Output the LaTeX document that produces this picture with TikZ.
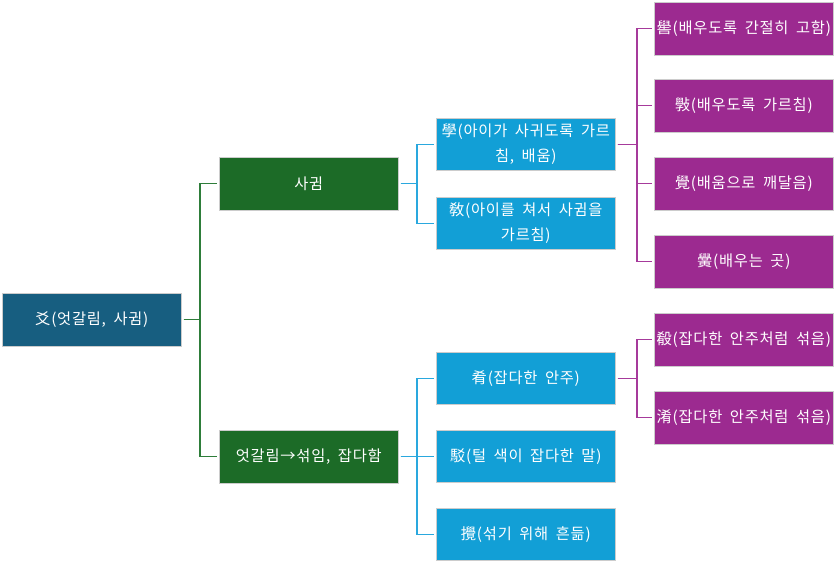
\documentclass[tikz,border=0pt]{standalone}
\usepackage{fontspec}
\setmainfont{Noto Sans CJK KR}[LetterSpace=5, WordSpace=1.8]
\definecolor{rootc}{HTML}{175E80}
\definecolor{greenc}{HTML}{1C6B27}
\definecolor{bluec}{HTML}{129FD6}
\definecolor{purplec}{HTML}{9C2A90}
\definecolor{gline}{HTML}{2E7D3A}
\definecolor{bline}{HTML}{2AA8DE}
\definecolor{pline}{HTML}{A63A9B}
\tikzset{
  box/.style={draw=white!80!black, line width=0.6pt, minimum width=179pt, minimum height=53pt,
    inner sep=0pt, text=white, align=center, font=\fontsize{15.3}{25}\selectfont, anchor=north west},
  rootbox/.style={box, fill=rootc},
  greenbox/.style={box, fill=greenc},
  bluebox/.style={box, fill=bluec, minimum height=52pt},
  purplebox/.style={box, fill=purplec},
  gconn/.style={draw=gline, line width=1.3pt, shorten <=2pt, shorten >=2pt},
  bconn/.style={draw=bline, line width=1.3pt, shorten <=2pt, shorten >=2pt},
  pconn/.style={draw=pline, line width=1.3pt, shorten <=2pt, shorten >=2pt},
}
\begin{document}
\begin{tikzpicture}[x=1pt,y=-1pt]
\useasboundingbox (0,0) rectangle (835,563);
% root
\node[rootbox] (root) at (2,293) {爻(엇갈림, 사귐)};
% level 1
\node[greenbox] (s1) at (219,157) {사귐};
\node[greenbox] (s2) at (219,430) {엇갈림→섞임, 잡다함};
% level 2
\node[bluebox] (b1) at (436,118) {學(아이가 사귀도록 가르\\침, 배움)};
\node[bluebox] (b2) at (436,197) {敎(아이를 쳐서 사귐을\\가르침)};
\node[bluebox] (b3) at (436,352) {肴(잡다한 안주)};
\node[bluebox] (b4) at (436,430) {駁(털 색이 잡다한 말)};
\node[bluebox] (b5) at (436,508) {攪(섞기 위해 흔듦)};
% level 3
\node[purplebox] (p1) at (654,2) {嚳(배우도록 간절히 고함)};
\node[purplebox] (p2) at (654,79) {斅(배우도록 가르침)};
\node[purplebox] (p3) at (654,157) {覺(배움으로 깨달음)};
\node[purplebox] (p4) at (654,235) {黌(배우는 곳)};
\node[purplebox] (p5) at (654,313) {殽(잡다한 안주처럼 섞음)};
\node[purplebox] (p6) at (654,391) {淆(잡다한 안주처럼 섞음)};
% bus coordinates
\coordinate (bus1) at (200,0);
\coordinate (bus2) at (417,0);
\coordinate (bus3) at (637,0);
% connectors
\draw[gconn] (root.east) -- (root.east -| bus1) |- (s1.west);
\draw[gconn] (root.east) -- (root.east -| bus1) |- (s2.west);
\draw[bconn] (s1.east) -- (s1.east -| bus2) |- (b1.west);
\draw[bconn] (s1.east) -- (s1.east -| bus2) |- (b2.west);
\draw[bconn] (s2.east) -- (s2.east -| bus2) |- (b3.west);
\draw[bconn] (s2.east) -- (s2.east -| bus2) |- (b4.west);
\draw[bconn] (s2.east) -- (s2.east -| bus2) |- (b5.west);
\draw[pconn] (b1.east) -- (b1.east -| bus3) |- (p1.west);
\draw[pconn] (b1.east) -- (b1.east -| bus3) |- (p2.west);
\draw[pconn] (b1.east) -- (b1.east -| bus3) |- (p3.west);
\draw[pconn] (b1.east) -- (b1.east -| bus3) |- (p4.west);
\draw[pconn] (b3.east) -- (b3.east -| bus3) |- (p5.west);
\draw[pconn] (b3.east) -- (b3.east -| bus3) |- (p6.west);
\end{tikzpicture}
\end{document}
